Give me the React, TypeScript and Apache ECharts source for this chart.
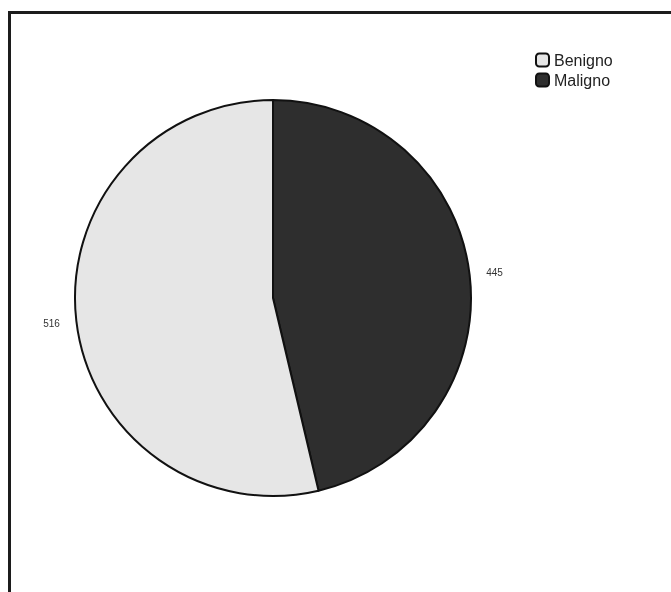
import React, { useEffect, useRef } from "react";
import * as echarts from "echarts";

const categories = ["Maligno", "Benigno"];
const values = [445, 516];
const legendOrder = ["Benigno", "Maligno"];
const colors: Record<string, string> = { Benigno: "#e6e6e6", Maligno: "#2e2e2e" };

export default function App() {
  const ref = useRef<HTMLDivElement>(null);
  useEffect(() => {
    if (!ref.current) return;
    const chart = echarts.init(ref.current, undefined, { renderer: "svg" });
    const data = categories.map((c, i) => ({
      name: c,
      value: values[i],
      itemStyle: { color: colors[c] },
    }));
    chart.setOption({
      animation: false,
      legend: {
        orient: "vertical",
        left: 535,
        top: 52,
        padding: 0,
        data: legendOrder,
        icon: "roundRect",
        itemWidth: 13,
        itemHeight: 13,
        itemGap: 4,
        textStyle: { fontFamily: "Liberation Sans, Arial", fontSize: 16, color: "#222" },
        itemStyle: { borderColor: "#111", borderWidth: 2 },
      },
      series: [
        {
          type: "pie",
          center: [273, 298],
          radius: 198,
          startAngle: 90,
          clockwise: true,
          data,
          label: { show: false },
          labelLine: { show: false },
          itemStyle: { borderColor: "#111", borderWidth: 2 },
          emphasis: { disabled: true },
        },
        {
          type: "pie",
          center: [273, 298],
          radius: [212, 228],
          startAngle: 90,
          clockwise: true,
          silent: true,
          data: categories.map((c, i) => ({ name: c, value: values[i] })),
          itemStyle: { color: "rgba(0,0,0,0)", borderWidth: 0 },
          label: {
            show: true,
            position: "inside",
            formatter: "{c}",
            fontFamily: "Liberation Sans, Arial",
            fontSize: 10,
            color: "#333",
          },
          labelLine: { show: false },
          emphasis: { disabled: true },
        },
      ],
    });
    return () => chart.dispose();
  }, []);
  return (
    <>
      <div
        style={{
          position: "fixed",
          left: 8,
          top: 11,
          width: 720,
          height: 640,
          borderTop: "3px solid #1c1c1c",
          borderLeft: "3px solid #1c1c1c",
          boxSizing: "border-box",
        }}
      />
      <div ref={ref} style={{ position: "fixed", left: 0, top: 0, width: 671, height: 592 }} />
    </>
  );
}
